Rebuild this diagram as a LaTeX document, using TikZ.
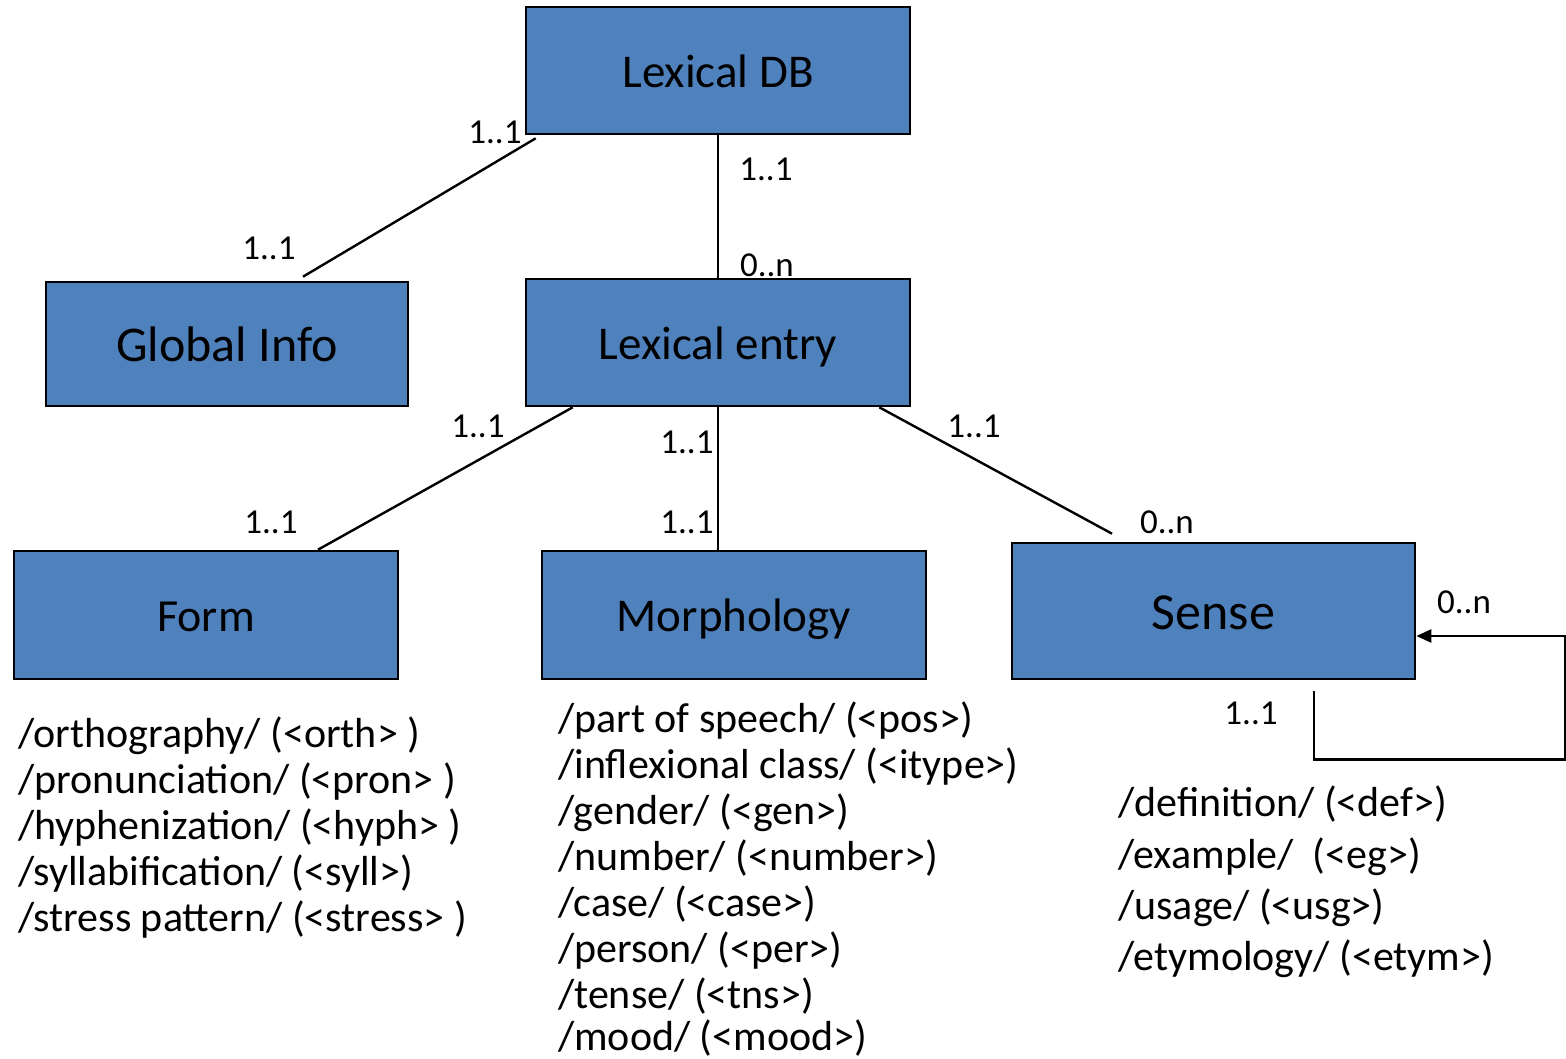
\documentclass[tikz,border=0pt]{standalone}
\usepackage{fontspec}
\setmainfont{Carlito}
\usetikzlibrary{calc,arrows.meta}
\definecolor{boxblue}{HTML}{4F81BD}
\tikzset{
  entity/.style={draw=black, fill=boxblue, line width=2.6pt, inner sep=0pt, text=black, text depth=0pt},
  conn/.style={line width=2.4pt, draw=black},
  mult/.style={anchor=base, inner sep=0pt, font=\fontsize{35}{40}\selectfont},
  item/.style={anchor=base west, inner sep=0pt, font=\fontsize{42}{46}\selectfont}
}
\begin{document}
\begin{tikzpicture}[x=1pt,y=-1pt]
\useasboundingbox (0,0) rectangle (1566,1059);
% boxes
\node[entity, minimum width=384pt, minimum height=127pt, text height=33.4pt, font=\fontsize{47}{56}\selectfont] (ldb) at (718,70.5) {Lexical DB};
\node[entity, minimum width=362pt, minimum height=124pt, text height=35.5pt, font=\fontsize{50}{60}\selectfont] (gi) at (227,344) {Global Info};
\node[entity, minimum width=384pt, minimum height=127pt, text height=33.4pt, font=\fontsize{47}{56}\selectfont] (le) at (718,342.5) {Lexical entry};
\node[entity, minimum width=384pt, minimum height=128pt, text height=32.7pt, font=\fontsize{46}{55}\selectfont] (fo) at (206,615) {Form};
\node[entity, minimum width=384pt, minimum height=128pt, text height=33.4pt, font=\fontsize{47}{56}\selectfont] (mo) at (734,615) {Morphology};
\node[entity, minimum width=403pt, minimum height=136pt, text height=36.9pt, font=\fontsize{52}{62}\selectfont] (se) at (1213.5,611) {Sense};
% connectors
\draw[conn] ($(ldb.south west)+(11,3)$) -- ($(gi.north)+(76,-4)$);
\draw[conn] (ldb.south) -- (le.north);
\draw[conn] ($(le.south west)+(48,0)$) -- ($(fo.north)+(112,0)$);
\draw[conn] (le.south) -- (le.south |- mo.north);
\draw[conn] ($(le.south east)+(-32,0)$) -- ($(se.north)+(-101.5,-8)$);
\coordinate (loopstart) at ($(se.south)+(100.5,11)$);
\draw[conn, -{Triangle[length=15pt,width=13pt]}] (loopstart) -- ++(0,68) -- ++(251,0) |- ($(se.east)+(0,25)$);
% multiplicities
\node[mult] (m1) at (495,144) {1..1};
\node[mult] (m2) at (269,260) {1..1};
\node[mult] (m3) at (766,181) {1..1};
\node[mult] (m4) at (767,277) {0..n};
\node[mult] (m5) at (478,437) {1..1};
\node[mult] (m6) at (687,453) {1..1};
\node[mult] (m7) at (974,437) {1..1};
\node[mult] (m8) at (271,533) {1..1};
\node[mult] (m9) at (687,533) {1..1};
\node[mult] (m10) at (1167,533) {0..n};
\node[mult] (m11) at (1464,613) {0..n};
\node[mult] (m12) at (1251,724) {1..1};
% attribute lists
\node[item] (f1) at (18,747) {/orthography/ (<orth> )};
\node[item] (f2) at (18,793) {/pronunciation/ (<pron> )};
\node[item] (f3) at (18,839) {/hyphenization/ (<hyph> )};
\node[item] (f4) at (18,885) {/syllabification/ (<syll>)};
\node[item] (f5) at (18,931) {/stress pattern/ (<stress> )};
\node[item] (g1) at (558,732) {/part of speech/ (<pos>)};
\node[item] (g2) at (558,778) {/inflexional class/ (<itype>)};
\node[item] (g3) at (558,824) {/gender/ (<gen>)};
\node[item] (g4) at (558,870) {/number/ (<number>)};
\node[item] (g5) at (558,916) {/case/ (<case>)};
\node[item] (g6) at (558,962) {/person/ (<per>)};
\node[item] (g7) at (558,1008) {/tense/ (<tns>)};
\node[item] (g8) at (558,1050) {/mood/ (<mood>)};
\node[item] (s1) at (1118,816) {/definition/ (<def>)};
\node[item] (s2) at (1118,868) {/example/\ \ (<eg>)};
\node[item] (s3) at (1118,919) {/usage/ (<usg>)};
\node[item] (s4) at (1118,970) {/etymology/ (<etym>)};
\end{tikzpicture}
\end{document}
